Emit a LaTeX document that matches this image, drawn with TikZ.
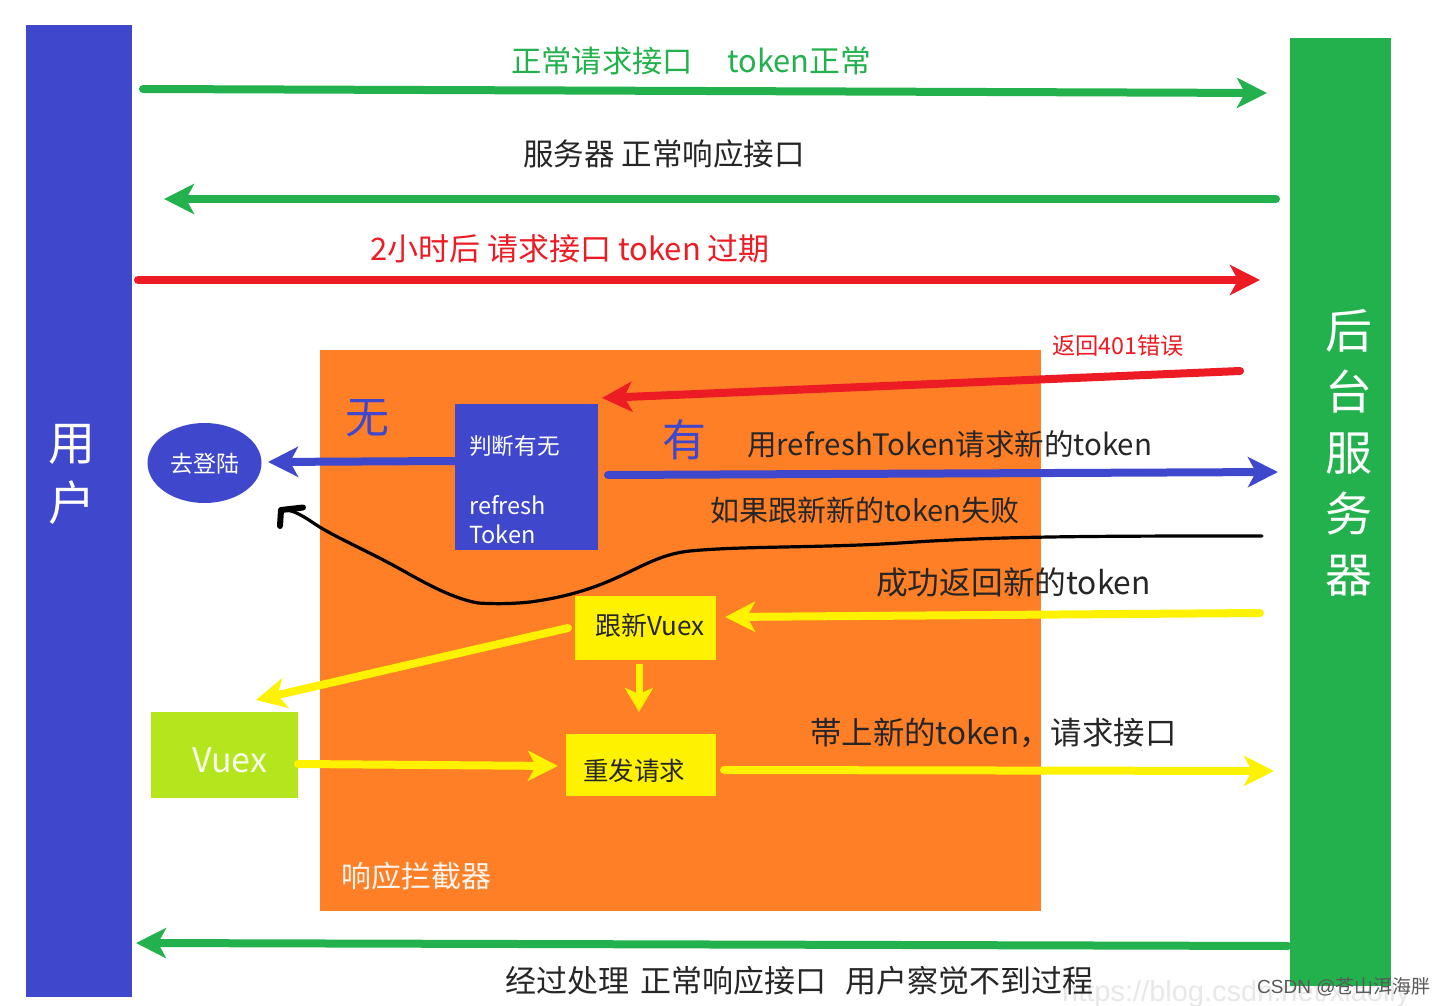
\documentclass[tikz,border=0pt]{standalone}
\usepackage{fontspec}
\setmainfont{Noto Sans CJK SC}
\newfontfamily\wmfont{Liberation Sans}
\newfontfamily\wmcjk{Noto Sans CJK SC}
\usetikzlibrary{arrows.meta,shapes.geometric}
\definecolor{ublue}{HTML}{3F48CC}
\definecolor{ugreen}{HTML}{22B14C}
\definecolor{uorange}{HTML}{FF7F27}
\definecolor{ured}{HTML}{ED1C24}
\definecolor{uyellow}{HTML}{FFF200}
\definecolor{ulime}{HTML}{B5E61D}
\definecolor{utext}{HTML}{262626}
\tikzset{
  lbl/.style={inner sep=0pt,font=\fontsize{#1}{#1}\selectfont},
  lbl/.default=30,
  flow/.style={line width=8pt,line cap=round,draw=#1,-{Stealth[length=30pt,width=30pt,inset=8pt]}},
}
\begin{document}
\begin{tikzpicture}[x=1pt,y=-1pt]
\useasboundingbox (0,0) rectangle (1444,1006);
\fill[white] (0,0) rectangle (1444,1006);
% watermark behind
\node[text=black!9,anchor=west,inner sep=0pt,font=\wmfont\fontsize{29}{29}\selectfont] (wmurl) at (1062,994) {https://blog.csdn.net/xiaolly};
% bars
\node[fill=ublue,inner sep=0pt,minimum width=106pt,minimum height=972pt] (user) at (78.5,511) {};
\node[fill=ugreen,inner sep=0pt,minimum width=101pt,minimum height=948pt] (server) at (1340,512) {};
\node[lbl=47,text=white,align=center] (usert) at (72,474) {用\\[13pt]户};
\node[lbl=47,text=white,align=center] (servert) at (1349,453) {后\\[14pt]台\\[14pt]服\\[14pt]务\\[14pt]器};
% orange panel
\node[fill=uorange,inner sep=0pt,minimum width=721pt,minimum height=561pt] (panel) at (680,630.5) {};
\node[lbl=30,text=white!92!uorange,anchor=west] (panelt) at (341,876) {响应拦截器};
% boxes
\node[fill=ublue,inner sep=0pt,minimum width=143pt,minimum height=146pt] (judge) at (526,477) {};
\node[lbl=22.6,text=white,anchor=west] (j1) at (469,446) {判断有无};
\node[lbl=23.5,text=white,anchor=west] (j2) at (469,505) {refresh};
\node[lbl=23.5,text=white,anchor=west] (j3) at (469,534) {Token};
\node[ellipse,fill=ublue,inner sep=0pt,minimum width=114pt,minimum height=80pt] (login) at (204.5,463) {};
\node[lbl=23,text=white] (logint) at (205,464) {去登陆};
\node[fill=uyellow,inner sep=0pt,minimum width=141pt,minimum height=64pt] (upd) at (645,627.5) {};
\node[lbl=26,text=utext] (updt) at (650,626) {跟新Vuex};
\node[fill=uyellow,inner sep=0pt,minimum width=150pt,minimum height=62pt] (retry) at (641,765) {};
\node[lbl=25.5,text=utext] (retryt) at (634,771) {重发请求};
\node[fill=ulime,inner sep=0pt,minimum width=147pt,minimum height=86pt] (vuex) at (224.5,755) {};
\node[lbl=34,text=white!92!ulime] (vuext) at (230,760) {Vuex};
% labels
\node[lbl=30.3,text=ugreen,anchor=west] (l1) at (511,61) {正常请求接口};
\node[lbl=30.8,text=ugreen,anchor=west] (l1b) at (727,61) {token正常};
\node[lbl=30.5,text=utext,anchor=west] (l2) at (523,154) {服务器 正常响应接口};
\node[lbl=31,text=ured,anchor=west] (l3) at (370,249) {2小时后 请求接口 token 过期};
\node[lbl=23.3,text=ured,anchor=west] (l4) at (1052,346) {返回401错误};
\node[lbl=44,text=ublue] (none) at (367,418) {无};
\node[lbl=44,text=ublue] (have) at (684,440) {有};
\node[lbl=29.5,text=utext,anchor=west] (l5) at (747,444) {用refreshToken请求新的token};
\node[lbl=29,text=utext,anchor=west] (l6) at (710,510) {如果跟新新的token失败};
\node[lbl=31.7,text=utext,anchor=west] (l7) at (876,582) {成功返回新的token};
\node[lbl=31.4,text=utext,anchor=west] (l8) at (810,733) {帯上新的token，请求接口};
\node[lbl=31,text=utext,anchor=west] (l9) at (505,981) {经过处理\hspace{11pt}正常响应接口\hspace{19pt}用户察觉不到过程};
\node[anchor=west,inner sep=0pt,text=black!65,font=\wmfont\fontsize{19}{19}\selectfont] (wm) at (1257,987) {CSDN @{\wmcjk 苍山洱海胖}};
% connector ends
\coordinate (a1s) at (143,89); \coordinate (a1e) at (1267,93);
\coordinate (a2s) at (1276,199); \coordinate (a2e) at (164,199);
\coordinate (a3s) at (138,280); \coordinate (a3e) at (1260,280);
\coordinate (a4s) at (1240,371); \coordinate (a4e) at (602,398);
\coordinate (a5s) at (608,475); \coordinate (a5e) at (1278,472);
\coordinate (a6s) at (1260,613); \coordinate (a6e) at (725,617);
\coordinate (a7s) at (568,628); \coordinate (a7e) at (256,700);
\coordinate (a8s) at (639,664); \coordinate (a8e) at (639,712);
\coordinate (a9s) at (298,764); \coordinate (a9e) at (558,766);
\coordinate (a10s) at (724,770); \coordinate (a10e) at (1274,771);
\coordinate (a11s) at (1288,946); \coordinate (a11e) at (136,943);
\coordinate (a12e) at (268,462);
% connectors
\draw[flow=ugreen] (a1s) -- (a1e);
\draw[flow=ugreen] (a2s) -- (a2e);
\draw[flow=ured] (a3s) -- (a3e);
\draw[flow=ured] (a4s) -- (a4e);
\draw[flow=ublue] (judge.west |- 0,461) -- (a12e);
\draw[flow=ublue] (a5s) -- (a5e);
\draw[flow=uyellow] (a6s) -- (a6e);
\draw[flow=uyellow] (a7s) -- (a7e);
\draw[line width=7pt,draw=uyellow,-{Stealth[length=24pt,width=28pt,inset=6pt]}] (a8s) -- (a8e);
\draw[flow=uyellow] (a9s) -- (a9e);
\draw[flow=uyellow] (a10s) -- (a10e);
\draw[flow=ugreen] (a11s) -- (a11e);
% black freehand return
\coordinate (bs) at (1262,536);
\draw[line width=3.2pt,black,line cap=round,line join=round] (bs) .. controls (1100,536) and (1000,536) .. (900,543)
  .. controls (820,548) and (740,546) .. (690,551)
  .. controls (640,556) and (620,590) .. (530,602)
  .. controls (510,604) and (495,604) .. (478,603)
  .. controls (450,598) and (420,580) .. (400,569)
  .. controls (370,552) and (330,535) .. (312,522)
  .. controls (300,514) and (292,510) .. (284,510);
\draw[line width=6pt,black,line cap=round,line join=round] (280,526) -- (281,510) -- (303,507.5);
\end{tikzpicture}
\end{document}
